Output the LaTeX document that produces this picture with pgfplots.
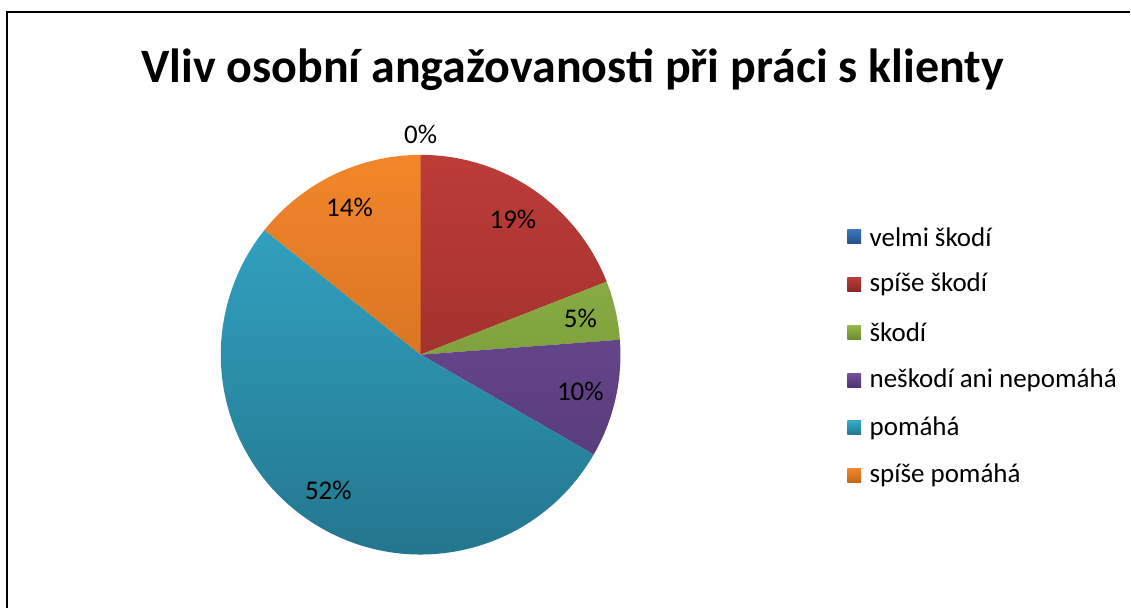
\documentclass[border=0pt]{standalone}
\usepackage{fontspec}
\setmainfont{Carlito}
\usepackage{pgfplots}
\usepackage{pgfplotstable}
\pgfplotsset{compat=1.18}

% Office 2010 style gradient colours (top / bottom)
\definecolor{c0top}{HTML}{3A75BA}\definecolor{c0bot}{HTML}{24528A}
\definecolor{c1top}{HTML}{BD3C38}\definecolor{c1bot}{HTML}{8A2825}
\definecolor{c2top}{HTML}{95B84A}\definecolor{c2bot}{HTML}{6A8C2E}
\definecolor{c3top}{HTML}{7652A0}\definecolor{c3bot}{HTML}{4F356F}
\definecolor{c4top}{HTML}{35AACB}\definecolor{c4bot}{HTML}{23768D}
\definecolor{c5top}{HTML}{F2862A}\definecolor{c5bot}{HTML}{C2651C}

% respondents per answer
\pgfplotstableread{
label count
{velmi škodí} 0
{spíše škodí} 4
{škodí} 1
{neškodí ani nepomáhá} 2
{pomáhá} 11
{spíše pomáhá} 3
}\piedata

\begin{document}
\begin{tikzpicture}
\begin{axis}[hide axis, x=0.5pt, y=0.5pt, scale only axis,
  xmin=0, xmax=1131, ymin=0, ymax=609, clip=false]
\pgfplotsextra{%
  \path (axis cs:0,0) rectangle (axis cs:1131,609);
  % frame
  \draw[line width=1pt] (axis cs:7.5,0) -- (axis cs:7.5,597) -- (axis cs:1131,597);
  % title
  \node[font=\fontsize{24}{28}\selectfont\bfseries] at (axis cs:573,539)
    {Vliv osobní angažovanosti při práci s klienty};
  % total
  \def\total{0}
  \pgfplotsforeachungrouped \i in {0,...,5}{%
    \pgfplotstablegetelem{\i}{count}\of\piedata
    \pgfmathsetmacro\total{\total+\pgfplotsretval}}
  \def\startang{90}
  \pgfplotsforeachungrouped \i in {0,...,5}{%
    \pgfplotstablegetelem{\i}{count}\of\piedata
    \let\cnt\pgfplotsretval
    \pgfmathsetmacro\sweep{360*\cnt/\total}
    \pgfmathsetmacro\endang{\startang-\sweep}
    \pgfmathsetmacro\midang{\startang-\sweep/2}
    \pgfmathtruncatemacro\pct{round(100*\cnt/\total)}
    \ifdim\sweep pt>0pt
      \begin{scope}
        \clip (axis cs:421,254) -- ++(\startang:100pt)
          arc[start angle=\startang, end angle=\endang, radius=100pt] -- cycle;
        \shade[top color=c\i top, bottom color=c\i bot]
          (axis cs:219,52) rectangle (axis cs:623,456);
      \end{scope}
      \path (axis cs:421,254) ++(\midang:82pt)
        node[font=\fontsize{13.5}{16}\selectfont] {\pct\%};
    \else
      \path (axis cs:421,254) ++(\midang:110pt)
        node[font=\fontsize{13.5}{16}\selectfont] {\pct\%};
    \fi
    \global\let\startang\endang
    % legend entry
    \pgfplotstablegetelem{\i}{label}\of\piedata
    \pgfmathsetmacro\ly{372-47.8*\i}
    \shade[top color=c\i top, bottom color=c\i bot]
      (axis cs:848,\ly-7) rectangle (axis cs:862,\ly+7);
    \node[anchor=west, inner sep=0pt, font=\fontsize{13.5}{16}\selectfont]
      at (axis cs:870,\ly) {\pgfplotsretval};
  }
}
\end{axis}
\end{tikzpicture}
\end{document}
